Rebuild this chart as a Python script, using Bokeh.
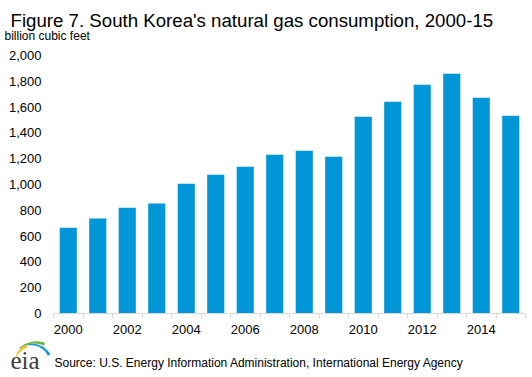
import math
from bokeh.plotting import figure
from bokeh.models import (Range1d, FixedTicker, NumeralTickFormatter, Label,
                          PolyAnnotation, ColumnDataSource)
from bokeh.embed import file_html
from bokeh.resources import INLINE

years = list(range(2000, 2016))
consumption = [665, 736, 820, 852, 1006, 1076, 1138, 1231, 1262, 1215,
               1525, 1641, 1773, 1858, 1672, 1533]
y_ticks = list(range(0, 2001, 200))
x_label_years = list(range(2000, 2015, 2))

title_text = "Figure 7. South Korea's natural gas consumption,  2000-15"
units_text = "billion cubic feet"
source_text = "Source: U.S. Energy Information Administration, International Energy Agency"

font = "Liberation Sans"
W, H = 532, 377
# plot-area edges in page pixels; the frame itself covers the whole canvas
PL, PR, PT, PB = 53, 525, 55, 313
X0, X1 = years[0] - 0.5, years[-1] + 0.5
Y0, Y1 = 0, 2000
sx = (PR - PL) / (X1 - X0)
sy = (PB - PT) / (Y1 - Y0)

p = figure(width=W, height=H, output_backend="svg", toolbar_location=None,
           x_range=Range1d(X0 - PL / sx, X1 + (W - PR) / sx),
           y_range=Range1d(Y0 - (H - PB) / sy, Y1 + PT / sy),
           min_border=0, min_border_left=0, min_border_right=0,
           min_border_top=0, min_border_bottom=0)
p.outline_line_color = None
p.xgrid.grid_line_color = None
p.ygrid.grid_line_color = None
p.background_fill_color = "white"
p.border_fill_color = "white"

src = ColumnDataSource(dict(x=years, top=consumption))
p.vbar(x="x", top="top", width=0.58, source=src, color="#0096D7", line_color=None)

xa = p.xaxis[0]
xa.fixed_location = Y0
xa.bounds = (X0, X1)
xa.ticker = FixedTicker(ticks=x_label_years,
                        minor_ticks=[y - 0.5 for y in years] + [years[-1] + 0.5])
xa.axis_line_color = "#D9D9D9"
xa.major_tick_out = 0
xa.major_tick_in = 0
xa.minor_tick_out = 5
xa.minor_tick_in = 0
xa.minor_tick_line_color = "#D9D9D9"
xa.major_label_standoff = 6
xa.major_label_text_font = font
xa.major_label_text_font_size = "13px"
xa.major_label_text_color = "black"

ya = p.yaxis[0]
ya.fixed_location = X0
ya.bounds = (Y0, Y1)
ya.ticker = FixedTicker(ticks=y_ticks)
ya.formatter = NumeralTickFormatter(format="0,0")
ya.axis_line_color = None
ya.major_tick_line_color = None
ya.minor_tick_line_color = None
ya.major_tick_out = 0
ya.major_tick_in = 0
ya.major_label_standoff = 12
ya.major_label_text_font = font
ya.major_label_text_font_size = "13px"
ya.major_label_text_color = "black"


def lab(text, x, base, size, fnt=font, color="black"):
    # x, base: page pixel position of the text start and its baseline
    p.add_layout(Label(x=x, y=H - base, x_units="screen", y_units="screen",
                       text=text, text_font=fnt, text_font_size=size,
                       text_baseline="alphabetic", text_color=color))


lab(title_text, 10, 20, "18.67px")
lab(units_text, 4, 35, "12px")
lab(source_text, 54, 362, "12px")
lab("eia", 10, 360, "25px", fnt="Liberation Serif", color="#3C3C3C")


def swoosh(cx, cy, r, a0, a1, w0, w1, color, n=24):
    ox, oy, ix, iy = [], [], [], []
    for i in range(n + 1):
        t = i / n
        a = math.radians(a0 + (a1 - a0) * t)
        w = w0 + (w1 - w0) * t
        ox.append(cx + (r + w / 2) * math.cos(a))
        oy.append(H - (cy - (r + w / 2) * math.sin(a)))
        ix.append(cx + (r - w / 2) * math.cos(a))
        iy.append(H - (cy - (r - w / 2) * math.sin(a)))
    p.add_layout(PolyAnnotation(xs=ox + ix[::-1], ys=oy + iy[::-1],
                                xs_units="screen", ys_units="screen",
                                fill_color=color, fill_alpha=1, line_color=None))


swoosh(34, 364, 20, 160, 112, 0.8, 3.0, "#F6C21B")
swoosh(35, 366, 24, 132, 68, 0.8, 3.0, "#6DB33F")
swoosh(31, 364, 20, 100, 28, 1.0, 3.0, "#1A9AD6")

out = file_html(p, INLINE)
open("out.html", "w").write(out)
